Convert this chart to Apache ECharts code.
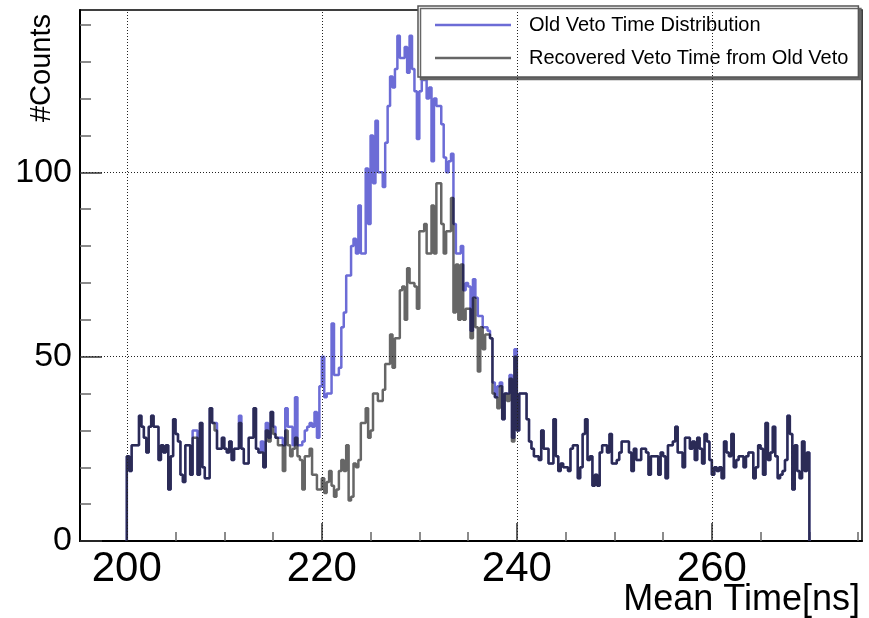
<!DOCTYPE html>
<html><head><meta charset="utf-8">
<script src="https://cdn.jsdelivr.net/npm/echarts@6/dist/echarts.min.js"></script>
<style>html,body{margin:0;padding:0;background:#fff}#c{width:869px;height:618px}</style>
</head><body><div id="c"></div>
<script>
// Histogram bins: 0.25 ns wide, starting at 200 ns
const binStart = 200;
const binWidth = 0.25;
const seriesNames = ['Old Veto Time Distribution', 'Recovered Veto Time from Old Veto'];

const oldVeto = [
 23,19,26,26,26,34,31,28,24,31,
 34,31,31,22,26,24,26,14,23,33,
 29,27,18,16,26,26,18,30,30,18,
 32,20,17,17,36,32,32,25,25,28,
 25,24,27,22,25,25,34,25,21,21,
 28,28,36,25,24,27,20,32,28,35,
 31,28,28,28,26,36,31,31,26,39,
 26,26,27,30,31,32,31,35,28,42,
 50,39,40,40,59,45,45,47,58,62,
 72,72,80,82,78,91,78,78,101,86,
 110,97,114,100,100,96,108,118,126,123,
 128,137,131,131,134,127,137,128,122,109,
 122,125,125,120,123,103,120,118,118,113,
 104,100,103,105,86,78,78,80,68,70,
 69,57,71,66,61,61,58,58,57,55,
 43,39,42,43,33,40,40,45,28,52,
 30,40,40,40,33,27,25,23,23,22,
 30,25,25,21,21,33,23,19,21,20,
 20,19,25,26,26,17,20,29,33,22,
 23,15,18,15,24,26,26,24,29,21,
 21,22,24,27,27,27,24,19,25,22,
 22,25,25,24,18,23,23,23,18,24,
 23,17,26,26,27,31,24,24,20,28,
 28,25,27,22,28,25,21,29,27,22,
 18,20,19,20,17,27,24,23,29,20,
 22,23,23,20,23,24,24,17,20,26,
 25,18,32,22,24,31,23,17,18,19,
 22,34,29,14,26,19,17,27,19,24
];

const recovered = [
 23,19,26,26,26,34,31,28,24,31,
 34,31,31,22,26,24,26,14,23,33,
 29,27,18,16,26,26,18,28,28,18,
 32,20,17,17,36,32,30,25,25,28,
 25,24,27,22,25,25,32,25,21,21,
 28,28,36,25,24,24,20,30,27,35,
 29,28,26,26,19,30,26,23,25,28,
 23,22,14,23,23,25,18,18,14,14,
 17,13,16,19,15,12,14,19,22,19,
 26,11,12,21,20,22,32,32,36,28,
 30,40,40,38,38,41,48,48,56,47,
 55,55,68,69,60,74,70,70,69,63,
 84,84,86,78,78,91,78,97,97,86,
 78,84,84,93,62,75,60,75,60,63,
 63,55,66,58,46,58,52,56,56,55,
 40,39,36,42,33,40,38,44,27,50,
 30,40,40,40,33,27,25,23,23,22,
 30,25,25,21,21,33,23,19,21,20,
 20,19,25,26,26,17,20,29,33,22,
 23,15,18,15,24,26,26,24,29,21,
 21,22,24,27,27,27,24,19,25,22,
 22,25,25,24,18,23,23,23,18,24,
 23,17,26,26,27,31,24,24,20,28,
 28,25,27,22,28,25,21,29,27,22,
 18,20,19,20,17,27,24,23,29,20,
 22,23,23,20,23,24,24,17,20,26,
 25,18,32,22,24,31,23,17,18,19,
 22,34,29,14,26,19,17,27,19,24
];

const xMin = 195.2, xMax = 275.4, yMin = 0, yMax = 144;
const xMajorTicks = [200, 220, 240, 260];
const xMinorTicks = [205, 210, 215, 225, 230, 235, 245, 250, 255, 265, 270, 275];
const yMajorTicks = [0, 50, 100];
const yMinorTicks = [10, 20, 30, 40, 60, 70, 80, 90, 110, 120, 130, 140];
const xGridLines = [200, 220, 240, 260];
const yGridLines = [50, 100];

function toSteps(vals) {
  const d = [[binStart, 0]];
  vals.forEach((v, i) => d.push([binStart + i * binWidth, v]));
  const end = binStart + vals.length * binWidth;
  d.push([end, vals[vals.length - 1]]);
  d.push([end, 0]);
  return d;
}

const FONT = 'Liberation Sans';
const chart = echarts.init(document.getElementById('c'), null, {renderer: 'canvas'});
chart.setOption({
  animation: false,
  backgroundColor: '#fff',
  grid: {left: 80, right: 7, top: 10, bottom: 77, show: true, borderColor: '#000', borderWidth: 1.5, backgroundColor: 'transparent'},
  xAxis: [
    {type: 'value', min: xMin, max: xMax, position: 'bottom',
     axisLine: {show: true, lineStyle: {color: '#000', width: 2}},
     axisTick: {show: true, inside: true, length: 18, customValues: xMajorTicks, lineStyle: {color: '#333', width: 1.5}},
     axisLabel: {show: true, customValues: xMajorTicks, margin: 7, fontFamily: FONT, fontSize: 42, color: '#000'},
     splitLine: {show: false}},
    {type: 'value', min: xMin, max: xMax, position: 'bottom',
     axisLine: {show: false},
     axisTick: {show: true, inside: true, length: 9, customValues: xMinorTicks, lineStyle: {color: '#666', width: 1.5}},
     axisLabel: {show: false}, splitLine: {show: false}}
  ],
  yAxis: [
    {type: 'value', min: yMin, max: yMax, position: 'left',
     axisLine: {show: true, lineStyle: {color: '#000', width: 2}},
     axisTick: {show: true, inside: true, length: 22, customValues: yMajorTicks, lineStyle: {color: '#333', width: 1.5}},
     axisLabel: {show: true, customValues: yMajorTicks, margin: 8, fontFamily: FONT, fontSize: 34, color: '#000'},
     splitLine: {show: false}},
    {type: 'value', min: yMin, max: yMax, position: 'left',
     axisLine: {show: false},
     axisTick: {show: true, inside: true, length: 11, customValues: yMinorTicks, lineStyle: {color: '#666', width: 1.5}},
     axisLabel: {show: false}, splitLine: {show: false}}
  ],
  legend: {
    data: seriesNames, orient: 'vertical', left: 418, top: 6,
    icon: 'rect', itemWidth: 76, itemHeight: 2.5, itemGap: 11, padding: [8, 10, 8, 17],
    backgroundColor: '#fff', borderColor: '#555', borderWidth: 1.5,
    shadowColor: '#666', shadowBlur: 0, shadowOffsetX: 2.5, shadowOffsetY: 2.5,
    selectedMode: false,
    textStyle: {fontFamily: FONT, fontSize: 20, lineHeight: 22, color: '#000', padding: [0, 0, 0, 13]}
  },
  graphic: [
    {type: 'text', right: 9, top: 582, style: {text: 'Mean Time[ns]', font: '36px "Liberation Sans"', fill: '#000'}},
    {type: 'text', x: 42, y: 14, rotation: Math.PI / 2, style: {text: '#Counts', font: '29px "Liberation Sans"', fill: '#000', textAlign: 'right', textVerticalAlign: 'middle'}}
  ],
  series: [
    {type: 'line', name: 'grid', data: [], silent: true, symbol: 'none',
     markLine: {silent: true, symbol: 'none', label: {show: false}, animation: false,
       lineStyle: {color: '#222', type: [1, 2], width: 1},
       data: xGridLines.map(v => ({xAxis: v})).concat(yGridLines.map(v => ({yAxis: v})))}},
    {type: 'line', name: seriesNames[0], data: toSteps(oldVeto), step: 'end',
     symbol: 'none', showSymbol: false,
     itemStyle: {color: 'rgb(108,108,214)'},
     lineStyle: {color: 'rgb(108,108,214)', width: 2.5}},
    {type: 'line', name: seriesNames[1], data: toSteps(recovered), step: 'end',
     symbol: 'none', showSymbol: false,
     itemStyle: {color: 'rgba(0,0,0,0.6)'},
     lineStyle: {color: 'rgba(0,0,0,0.6)', width: 2.5}}
  ]
});
</script></body></html>
